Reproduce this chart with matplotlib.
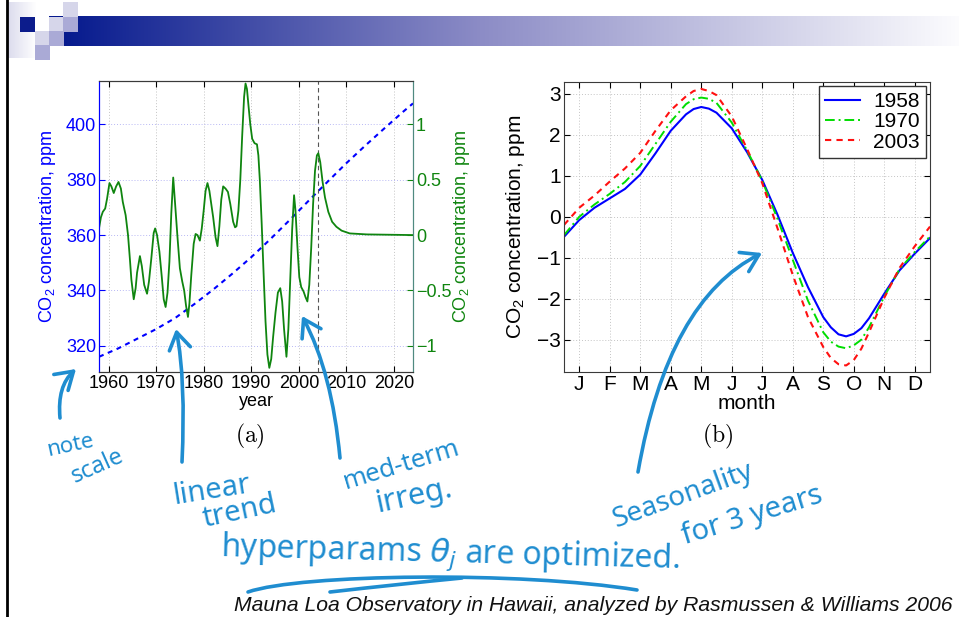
import numpy as np
import matplotlib
matplotlib.use("Agg")
import matplotlib.pyplot as plt
from matplotlib.path import Path
from matplotlib.patches import FancyArrowPatch, PathPatch, Rectangle
from matplotlib.ticker import FuncFormatter

plt.rcParams["font.family"] = ["Liberation Sans", "DejaVu Sans"]
plt.rcParams["axes.unicode_minus"] = True

# ---------------- (a) long-term trend and medium-term irregularities ----------------
trend_year = [1958, 1962, 1966, 1970, 1974, 1978, 1982, 1986, 1990, 1994,
              1998, 2002, 2006, 2010, 2014, 2018, 2022, 2024]
trend_ppm = [316.0, 319.0, 322.5, 326.0, 330.0, 335.0, 340.3, 346.0, 352.0, 358.5,
             365.3, 372.3, 379.2, 386.0, 392.4, 398.6, 404.7, 407.6]

irreg_year = [1958.0, 1958.4, 1958.8, 1959.3, 1959.7, 1960.2, 1960.6, 1961.1, 1961.6, 1962.1,
              1962.6, 1963.0, 1963.6, 1964.1, 1964.5, 1964.8, 1965.3, 1965.7, 1966.0, 1966.6,
              1967.0, 1967.5, 1968.1, 1968.5, 1969.0, 1969.5, 1969.8, 1970.2, 1970.7, 1971.2,
              1971.6, 1972.0, 1972.4, 1972.8, 1973.2, 1973.6, 1974.0, 1974.5, 1975.0, 1975.5,
              1975.9, 1976.3, 1976.7, 1977.0, 1977.4, 1977.9, 1978.3, 1978.7, 1979.2, 1979.6,
              1980.0, 1980.4, 1980.8, 1981.2, 1981.6, 1982.0, 1982.5, 1982.9, 1983.3, 1983.7,
              1984.1, 1984.6, 1985.1, 1985.6, 1986.2, 1986.6, 1986.9, 1987.3, 1987.7, 1988.1,
              1988.5, 1988.8, 1989.1, 1989.4, 1989.8, 1990.2, 1990.7, 1991.2, 1991.5, 1991.8,
              1992.2, 1992.6, 1993.0, 1993.4, 1993.8, 1994.2, 1994.6, 1995.1, 1995.6, 1996.1,
              1996.5, 1996.9, 1997.4, 1997.8, 1998.2, 1998.6, 1999.0, 1999.3, 1999.7, 2000.1,
              2000.5, 2001.0, 2001.4, 2001.8, 2002.2, 2002.6, 2003.0, 2003.4, 2003.8, 2004.1,
              2004.5, 2005.0, 2005.5, 2006.2, 2007.0, 2007.9, 2009.0, 2010.7, 2014.3, 2024.0]
irreg_ppm = [0.06, 0.16, 0.21, 0.24, 0.33, 0.47, 0.44, 0.38, 0.44, 0.48,
             0.42, 0.30, 0.18, 0.00, -0.22, -0.40, -0.58, -0.48, -0.34, -0.19,
             -0.28, -0.45, -0.53, -0.42, -0.21, 0.02, 0.06, 0.00, -0.15, -0.38,
             -0.58, -0.65, -0.52, -0.24, 0.20, 0.52, 0.28, -0.02, -0.30, -0.42,
             -0.50, -0.64, -0.74, -0.62, -0.36, -0.08, 0.01, 0.00, -0.05, 0.06,
             0.22, 0.40, 0.47, 0.40, 0.28, 0.16, -0.02, -0.10, 0.08, 0.32,
             0.44, 0.42, 0.39, 0.28, 0.12, 0.07, 0.08, 0.22, 0.50, 0.90,
             1.25, 1.37, 1.32, 1.18, 1.00, 0.87, 0.83, 0.82, 0.72, 0.50,
             0.10, -0.35, -0.78, -1.08, -1.20, -1.12, -0.92, -0.70, -0.52, -0.48,
             -0.60, -0.85, -1.10, -0.85, -0.40, 0.05, 0.36, 0.22, -0.10, -0.38,
             -0.47, -0.51, -0.56, -0.60, -0.45, -0.12, 0.28, 0.58, 0.72, 0.74,
             0.66, 0.48, 0.34, 0.21, 0.12, 0.075, 0.04, 0.015, 0.006, 0.0]
data_end_year = 2004

year_ticks = [1960, 1970, 1980, 1990, 2000, 2010, 2020]
ppm_ticks = [320, 340, 360, 380, 400]
irreg_ticks = [-1, -0.5, 0, 0.5, 1]

# ---------------- (b) seasonal component ----------------
month_pos = [0.5, 1.0, 1.5, 2.0, 2.5, 3.0, 3.5, 4.0, 4.5, 4.75, 5.0, 5.25, 5.5, 6.0, 6.5,
             7.0, 7.5, 8.0, 8.5, 9.0, 9.25, 9.5, 9.75, 10.0, 10.25, 10.5, 11.0, 11.5, 12.0, 12.5]
season_1958 = [-0.49, -0.08, 0.22, 0.45, 0.68, 1.03, 1.55, 2.10, 2.50, 2.63, 2.68, 2.64, 2.54,
               2.16, 1.58, 0.90, 0.05, -0.88, -1.72, -2.45, -2.70, -2.87, -2.92, -2.86, -2.72,
               -2.48, -1.88, -1.31, -0.90, -0.52]
season_1970 = [-0.45, 0.00, 0.30, 0.56, 0.85, 1.24, 1.78, 2.32, 2.75, 2.87, 2.91, 2.88, 2.78,
               2.30, 1.62, 0.88, -0.05, -1.05, -2.05, -2.82, -3.05, -3.17, -3.21, -3.14, -3.00,
               -2.70, -1.95, -1.28, -0.86, -0.48]
season_2003 = [-0.20, 0.22, 0.52, 0.86, 1.18, 1.56, 2.10, 2.60, 2.94, 3.07, 3.12, 3.07, 2.97,
               2.45, 1.66, 0.82, -0.28, -1.42, -2.45, -3.18, -3.45, -3.60, -3.63, -3.50, -3.22,
               -2.82, -1.98, -1.25, -0.72, -0.24]
season_labels = ["1958", "1970", "2003"]
month_ticks = list(range(1, 13))
month_names = ["J", "F", "M", "A", "M", "J", "J", "A", "S", "O", "N", "D"]
season_ticks = [-3, -2, -1, 0, 1, 2, 3]

W, H = 959, 617
fig = plt.figure(figsize=(W / 100, H / 100), dpi=100)


def rect(l, t, r, b):
    return [l / W, 1 - b / H, (r - l) / W, (b - t) / H]


co2_label = r"CO$_{\mathregular{2}}$ concentration, ppm"
dark = "#3a3a3a"

# ---------- panel (a) ----------
fs_a = 13
ax1 = fig.add_axes(rect(99, 81, 413, 372))
ax2 = ax1.twinx()
ax1.plot(trend_year, trend_ppm, color="#0000ff", lw=1.5, ls=(0, (2.4, 2.2)))
ax2.plot(irreg_year, irreg_ppm, color="#0f850f", lw=1.3)
ax1.axvline(data_end_year, color="#555555", lw=0.8, ls=(0, (4, 3)))
ax1.set_xlim(1958, 2024)
ax1.set_ylim(310.5, 415.7)
ax2.set_ylim(-1.2375, 1.3925)
ax1.set_xticks(year_ticks)
ax1.set_yticks(ppm_ticks)
ax2.set_yticks(irreg_ticks)
ax2.yaxis.set_major_formatter(FuncFormatter(lambda v, p: ("%g" % v).replace("-", "\u2212")))
for x in year_ticks:
    ax1.axvline(x, color="#c4c4c4", lw=0.7, ls=(0, (1, 2)), zorder=0)
for y in ppm_ticks:
    ax1.axhline(y, color="#b8b8f4", lw=0.7, ls=(0, (1, 2)), zorder=0)
ax1.tick_params(axis="x", direction="in", length=4, top=True, labelsize=fs_a,
                pad=2.5, colors="black")
ax1.tick_params(axis="y", direction="in", length=4, labelsize=fs_a, pad=2,
                colors="#0000ff", right=False)
ax2.tick_params(axis="y", direction="in", length=4, labelsize=fs_a, pad=2,
                colors="#0f850f", left=False)
for a in (ax1, ax2):
    a.spines["top"].set_color(dark)
    a.spines["bottom"].set_color(dark)
    a.spines["left"].set_color("#0000ff")
    a.spines["right"].set_color("#4f8a80")
ax1.set_xlabel("year", fontsize=fs_a)
ax1.xaxis.set_label_coords(0.5, -0.072)
ax1.set_ylabel(co2_label, fontsize=fs_a, color="#0000ff")
ax1.yaxis.set_label_coords(-0.129, 0.5)
ax2.set_ylabel(co2_label, fontsize=fs_a, color="#0f850f")
ax2.yaxis.set_label_coords(1.122, 0.5)

# ---------- panel (b) ----------
fs_b = 15
ax3 = fig.add_axes(rect(564, 82, 930, 372))
ax3.plot(month_pos, season_1958, color="#0000ff", lw=1.5, ls="-")
ax3.plot(month_pos, season_1970, color="#00dd00", lw=1.4, ls=(0, (5, 2, 1, 2)))
ax3.plot(month_pos, season_2003, color="#ff1010", lw=1.5, ls=(0, (3, 2.5)))
ax3.set_xlim(0.5, 12.5)
ax3.set_ylim(-3.79, 3.29)
ax3.set_xticks(month_ticks)
ax3.set_xticklabels(month_names)
ax3.set_yticks(season_ticks)
ax3.grid(True, color="#c4c4c4", lw=0.7, ls=(0, (1, 2)))
ax3.set_axisbelow(True)
ax3.tick_params(axis="both", direction="in", length=4, top=True, right=True,
                labelsize=fs_b, pad=2.5)
for s in ax3.spines.values():
    s.set_color(dark)
ax3.set_xlabel("month", fontsize=fs_b)
ax3.xaxis.set_label_coords(0.5, -0.075)
ax3.set_ylabel(co2_label, fontsize=fs_b)
ax3.yaxis.set_label_coords(-0.102, 0.5)
leg = ax3.legend(season_labels, loc="upper right", fontsize=fs_b, fancybox=False,
                 edgecolor="#333333", framealpha=1, borderpad=0.3, labelspacing=0.05,
                 handlelength=1.7, handletextpad=0.6, borderaxespad=0.2)
leg.get_frame().set_linewidth(1.0)

# ---------- slide overlay: banner, captions, pen notes ----------
ov = fig.add_axes([0, 0, 1, 1], zorder=10)
ov.patch.set_alpha(0)
ov.axis("off")

# gradient banner
gx = np.arange(49, 959)
anchor_x = [49, 63, 480, 959]
anchor_rgb = np.array([[6, 26, 142], [6, 26, 142], [140, 140, 198], [252, 252, 254]]) / 255.0
grad = np.stack([np.interp(gx, anchor_x, anchor_rgb[:, c]) for c in range(3)], axis=-1)
ov.imshow(grad[None, :, :], extent=(49, 959, 46, 16), aspect="auto", interpolation="bilinear")
# faded block at the left of the banner
fade = np.stack([np.interp(np.arange(7, 36), [7, 36], [c, 1.0]) for c in (0.86, 0.86, 0.93)], axis=-1)
ov.imshow(fade[None, :, :], extent=(7, 36, 58, 2), aspect="auto", interpolation="bilinear")
light, mid, navy = "#d6d6ea", "#aaaad6", "#0c1c8c"
for (x0, y0, c) in [(20, 17, navy), (35, 17, "white"), (49, 17, light), (63, 2, light),
                    (63, 17, mid), (35, 31, light), (49, 31, mid), (35, 45, mid)]:
    ov.add_patch(Rectangle((x0, y0), 14.5, 14.5, facecolor=c, edgecolor="none"))
ov.plot([7, 7], [0, 617], color="black", lw=2)
ov.set_xlim(0, W)
ov.set_ylim(H, 0)

ov.text(250, 436, r"$\mathrm{(a)}$", math_fontfamily="cm", fontsize=17, ha="center", va="center")
ov.text(718, 436, r"$\mathrm{(b)}$", math_fontfamily="cm", fontsize=17, ha="center", va="center")

cap = ov.text(953, 611, "Mauna Loa Observatory in Hawaii, analyzed by Rasmussen & Williams 2006",
              ha="right", va="baseline", style="italic", fontsize=15, color="#111111")
fig.canvas.draw()
cw = cap.get_window_extent().width
cap.set_fontsize(15 * 721 / cw)

ink = "#1f8dd0"
pen = dict(color=ink, family=["Noto Sans", "DejaVu Sans"], ha="center", va="center")
ov.text(70, 446, "note", fontsize=16, rotation=12, **pen)
ov.text(98, 466, "scale", fontsize=17, rotation=24, **pen)
ov.text(212, 490, "linear", fontsize=21, rotation=9, **pen)
ov.text(240, 512, "trend", fontsize=21, rotation=12, **pen)
ov.text(402, 465, "med-term", fontsize=18.5, rotation=17, **pen)
ov.text(414, 496, "irreg.", fontsize=22, rotation=12, **pen)
ov.text(683, 496, "Seasonality", fontsize=20, rotation=20, **pen)
ov.text(752, 516, "for 3 years", fontsize=21, rotation=17, **pen)
ov.text(220, 568, r"hyperparams $\theta_j$ are optimized.", color=ink,
        family=["Noto Sans", "DejaVu Sans"], fontsize=23, ha="left", va="baseline", rotation=-1.5)


def pen_arrow(p0, pc, p1):
    path = Path([p0, pc, p1], [Path.MOVETO, Path.CURVE3, Path.CURVE3])
    ov.add_patch(FancyArrowPatch(path=path, arrowstyle="->,head_length=0.55,head_width=0.35",
                                 mutation_scale=22, color=ink, lw=2.6))


pen_arrow((60, 418), (57, 386), (76, 369))
pen_arrow((182, 462), (186, 380), (176, 329))
pen_arrow((340, 458), (332, 372), (302, 316))
pen_arrow((638, 472), (668, 300), (762, 253))

under_a = Path([(248, 592), (300, 574), (520, 571), (637, 590)],
               [Path.MOVETO, Path.CURVE4, Path.CURVE4, Path.CURVE4])
under_b = Path([(330, 592), (400, 584), (462, 578)], [Path.MOVETO, Path.CURVE3, Path.CURVE3])
for pth in (under_a, under_b):
    ov.add_patch(PathPatch(pth, facecolor="none", edgecolor=ink, lw=2.6, capstyle="round"))

fig.savefig("out.png", dpi=100)
